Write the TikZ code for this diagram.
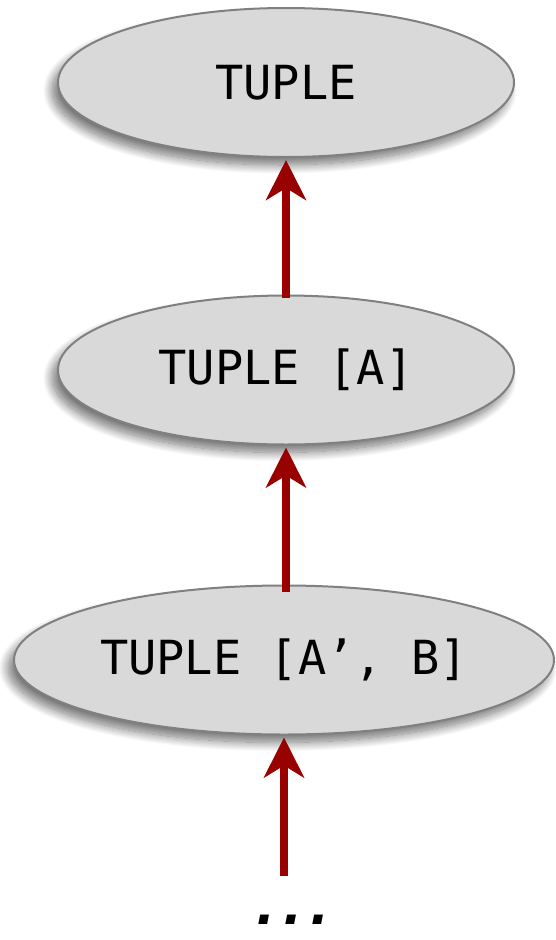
\documentclass[tikz,border=0pt]{standalone}
\usepackage{fontspec}
\setmonofont{DejaVu Sans Mono}
\newfontfamily\dotsfont{DejaVu Sans}
\usetikzlibrary{shapes.geometric,arrows.meta,shadows.blur}
\definecolor{nodefill}{HTML}{D9D9D9}
\definecolor{nodeline}{HTML}{808080}
\definecolor{arrowred}{HTML}{990000}
\tikzset{
  typenode/.style={ellipse, draw=nodeline, line width=2pt, fill=nodefill,
    inner sep=0pt, minimum height=149pt,
    font=\fontsize{47}{50}\selectfont\ttfamily,
    blur shadow={shadow xshift=-6pt, shadow yshift=-8pt, shadow blur radius=9pt,
      shadow blur steps=16, shadow opacity=55}},
  conform/.style={draw=arrowred, line width=8pt, shorten >=2pt,
    -{Stealth[length=40pt, width=40pt, inset=12pt]}},
}
\begin{document}
\begin{tikzpicture}[x=1pt, y=-1pt]
  \useasboundingbox (0,0) rectangle (555,940);
  \node[typenode, minimum width=456pt] (t0) at (286,82.5) {TUPLE};
  \node[typenode, minimum width=456pt] (t1) at (286,370) {TUPLE [A]};
  \node[typenode, minimum width=540pt] (t2) at (284,660) {TUPLE [A’, B]};
  \node[font=\fontsize{50}{54}\selectfont\dotsfont\bfseries\itshape, inner sep=0pt,
    anchor=base] (more) at (293,924) {.\kern8pt.\kern8pt.};
  \coordinate (tail) at (284,876);
  \draw[conform, shorten <=-3pt] (t1) -- (t0);
  \draw[conform, shorten <=-7pt] (t1.south |- t2.north) -- (t1.south);
  \draw[conform] (tail) -- (t2.south);
\end{tikzpicture}
\end{document}
